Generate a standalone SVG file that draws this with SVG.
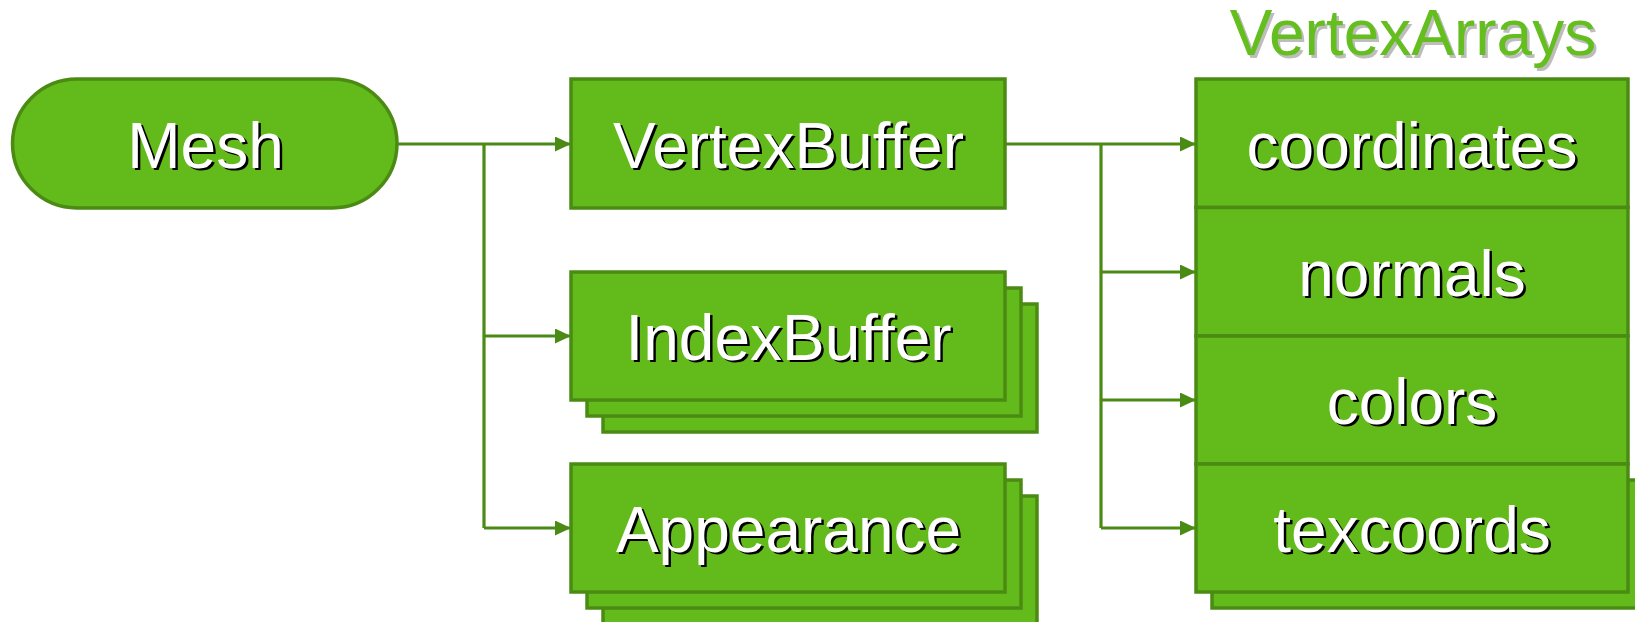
<svg xmlns="http://www.w3.org/2000/svg" width="1635" height="622" viewBox="0 0 1635 622">
  <style>
    .box { fill: #63BA1B; stroke: #4B8B14; stroke-width: 3.5; }
    .wire { fill: none; stroke: #4B8B14; stroke-width: 3.2; }
    text { font-family: "Liberation Sans", Arial, sans-serif; font-size: 64px; text-anchor: middle; }
    .lbl { fill: #FFFFFF; }
    .sh { fill: #000000; }
    .title { fill: #64BE1E; }
    .title-sh { fill: #BDBDBD; }
  </style>
  <defs>
    <marker id="arrow" markerUnits="userSpaceOnUse" markerWidth="17" markerHeight="16" refX="16" refY="7.5" orient="auto">
      <path d="M0,0 L16,7.5 L0,15 z" fill="#4B8B14"/>
    </marker>
  </defs>

  <!-- connectors -->
  <g id="connectors">
    <path class="wire" d="M397,144 H571" marker-end="url(#arrow)"/>
    <path class="wire" d="M484,144 V528 M484,336 H571" marker-end="url(#arrow)"/>
    <path class="wire" d="M484,528 H571" marker-end="url(#arrow)"/>
    <path class="wire" d="M1005,144 H1196" marker-end="url(#arrow)"/>
    <path class="wire" d="M1101,144 V528"/>
    <path class="wire" d="M1101,272 H1196" marker-end="url(#arrow)"/>
    <path class="wire" d="M1101,400 H1196" marker-end="url(#arrow)"/>
    <path class="wire" d="M1101,528 H1196" marker-end="url(#arrow)"/>
  </g>

  <!-- Mesh -->
  <g id="mesh">
    <rect class="box" x="12.5" y="79" width="384.5" height="129" rx="64.5" ry="64.5"/>
    <text class="sh" x="208" y="170">Mesh</text>
    <text class="lbl" x="205.5" y="167.5">Mesh</text>
  </g>

  <!-- VertexBuffer -->
  <g id="vertexbuffer">
    <rect class="box" x="571" y="79" width="434" height="129"/>
    <text class="sh" x="791" y="170">VertexBuffer</text>
    <text class="lbl" x="788.5" y="167.5">VertexBuffer</text>
  </g>

  <!-- IndexBuffer (stacked) -->
  <g id="indexbuffer">
    <rect class="box" x="603" y="304" width="434" height="128"/>
    <rect class="box" x="587" y="288" width="434" height="128"/>
    <rect class="box" x="571" y="272" width="434" height="128"/>
    <text class="sh" x="791" y="362">IndexBuffer</text>
    <text class="lbl" x="788.5" y="359.5">IndexBuffer</text>
  </g>

  <!-- Appearance (stacked) -->
  <g id="appearance">
    <rect class="box" x="603" y="496" width="434" height="128"/>
    <rect class="box" x="587" y="480" width="434" height="128"/>
    <rect class="box" x="571" y="464" width="434" height="128"/>
    <text class="sh" x="791" y="554">Appearance</text>
    <text class="lbl" x="788.5" y="551.5">Appearance</text>
  </g>

  <!-- VertexArrays -->
  <g id="vertexarrays">
    <text class="title-sh" x="1415.5" y="57.5">VertexArrays</text>
    <text class="title" x="1413" y="55">VertexArrays</text>
    <rect class="box" x="1212" y="480" width="434" height="128"/>
    <rect class="box" x="1196" y="79" width="432" height="128.5"/>
    <rect class="box" x="1196" y="207.5" width="432" height="128.5"/>
    <rect class="box" x="1196" y="336" width="432" height="128"/>
    <rect class="box" x="1196" y="464" width="432" height="128"/>
    <text class="sh" x="1414.5" y="170">coordinates</text>
    <text class="lbl" x="1412" y="167.5">coordinates</text>
    <text class="sh" x="1414.5" y="298">normals</text>
    <text class="lbl" x="1412" y="295.5">normals</text>
    <text class="sh" x="1414.5" y="426">colors</text>
    <text class="lbl" x="1412" y="423.5">colors</text>
    <text class="sh" x="1414.5" y="554">texcoords</text>
    <text class="lbl" x="1412" y="551.5">texcoords</text>
  </g>
</svg>
